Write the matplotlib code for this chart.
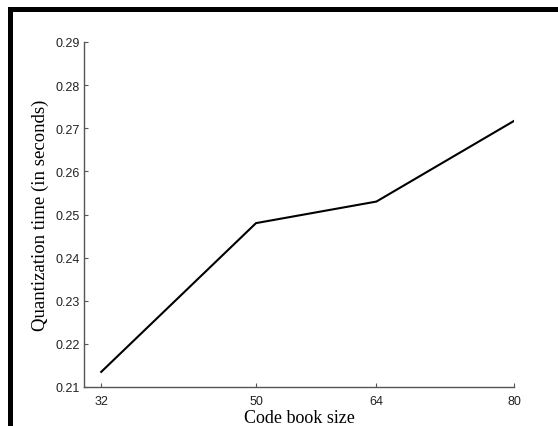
import matplotlib
matplotlib.use("Agg")
import matplotlib.pyplot as plt
from matplotlib.patches import Rectangle

# code book sizes and quantization times
book_size = [32, 50, 64, 80]
quant_time = [0.2135, 0.2480, 0.2530, 0.2717]
x_ticks = [32, 50, 64, 80]
y_ticks = [0.21, 0.22, 0.23, 0.24, 0.25, 0.26, 0.27, 0.28, 0.29]

W, H = 558, 427
fig = plt.figure(figsize=(W / 100, H / 100), dpi=100)
fig.patch.set_facecolor("white")

#thick black frame on left and top
fig.patches.append(Rectangle((8 / W, 0), 5 / W, (H - 8) / H, transform=fig.transFigure,
                             facecolor="black", edgecolor="none"))
fig.patches.append(Rectangle((8 / W, (H - 13) / H), (W - 8) / W, 5 / H, transform=fig.transFigure,
                             facecolor="black", edgecolor="none"))

ax = fig.add_axes([84 / W, (H - 388) / H, (514 - 84) / W, (388 - 43) / H])
ax.plot(book_size, quant_time, color="black", linewidth=1.5)

ax.set_xlim(30, 80)
ax.set_ylim(0.21, 0.29)
ax.set_xticks(x_ticks)
ax.set_yticks(y_ticks)
ax.set_yticklabels(["%.2f" % v for v in y_ticks])

for s in ["top", "right"]:
    ax.spines[s].set_visible(False)
for s in ["left", "bottom"]:
    ax.spines[s].set_color("#555555")
    ax.spines[s].set_linewidth(1.0)

ax.tick_params(direction="in", length=3, width=0.8, color="#555555")
ax.tick_params(axis="y", pad=3)
ax.tick_params(axis="x", pad=6)
for lab in ax.get_xticklabels() + ax.get_yticklabels():
    lab.set_fontfamily("Liberation Sans")
    lab.set_fontsize(9)
    lab.set_color("#222222")

ax.set_xlabel("Code book size", family="Liberation Serif", fontsize=13, labelpad=1)
ax.set_ylabel("Quantization time (in seconds)", family="Liberation Serif", fontsize=13.5, labelpad=5)

fig.savefig("out.png", dpi=100)
